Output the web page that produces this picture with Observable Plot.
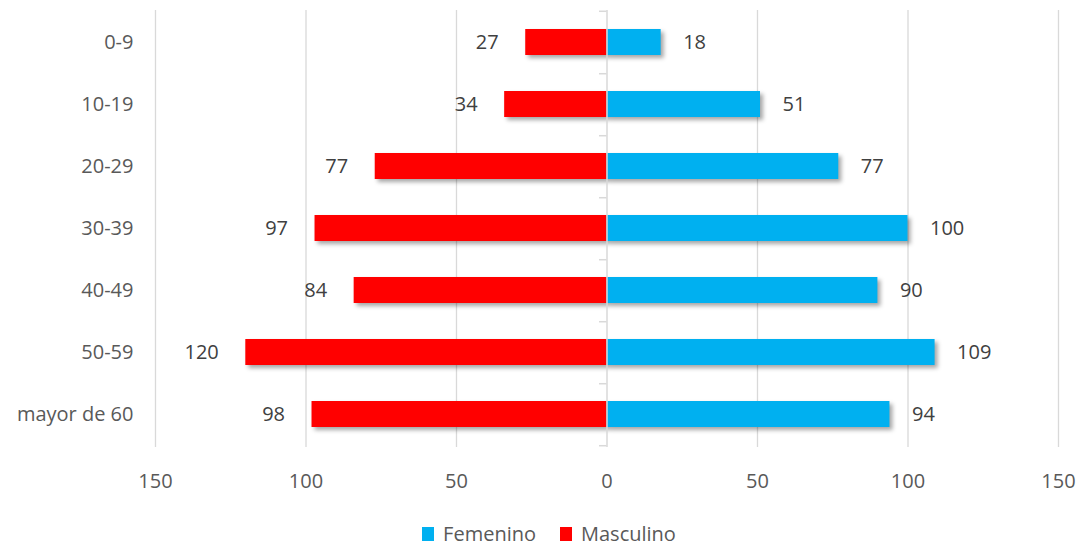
<!DOCTYPE html>
<html>
<head>
<meta charset="utf-8">
<script src="https://cdn.jsdelivr.net/npm/d3@7"></script>
<script src="https://cdn.jsdelivr.net/npm/@observablehq/plot@0.6"></script>
<style>
  html, body { margin: 0; padding: 0; background: #fff; }
  #chart svg { display: block; }
  .legend { display: flex; justify-content: center; align-items: center; gap: 24px;
    font: 20px "Open Sans", "Noto Sans", sans-serif; color: #595959; height: 41px;
    padding-left: 14px; padding-top: 16px; box-sizing: border-box; }
  .legend span.item { display: flex; align-items: center; }
  .legend span.sw { display: inline-block; width: 12px; height: 14px; margin-right: 9px; }
</style>
</head>
<body>
<div id="chart"></div>
<div class="legend" id="legend"></div>
<script>
// Age groups and counts by sex
const grupos = ["0-9", "10-19", "20-29", "30-39", "40-49", "50-59", "mayor de 60"];
const femenino = [18, 51, 77, 100, 90, 109, 94];
const masculino = [27, 34, 77, 97, 84, 120, 98];
const xTicks = [-150, -100, -50, 0, 50, 100, 150];
const series = ["Femenino", "Masculino"];
const colores = ["#00B0F0", "#FF0000"];

const rows = grupos.flatMap((g, i) => [
  {grupo: g, sexo: "Femenino", valor: femenino[i], x: femenino[i]},
  {grupo: g, sexo: "Masculino", valor: masculino[i], x: -masculino[i]}
]);

const W = 1084, H = 505;
const mTop = 10, mBottom = H - 447;
const step = (H - mTop - mBottom) / grupos.length;
const font = `"Open Sans", "Noto Sans", sans-serif`;
const fs = 20;

const chart = Plot.plot({
  width: W,
  height: H,
  marginLeft: 155,
  marginRight: 26,
  marginTop: mTop,
  marginBottom: mBottom,
  style: {fontFamily: font, fontSize: `${fs}px`, color: "#595959", background: "#fff"},
  x: {domain: [-150, 150], ticks: xTicks, label: null},
  y: {domain: grupos, paddingInner: 0.58, paddingOuter: 0.29, label: null},
  color: {domain: series, range: colores},
  marks: [
    Plot.ruleX(xTicks.filter(d => d !== 0), {stroke: "#d9d9d9", strokeWidth: 1.3}),
    Plot.barX(rows, {x: "x", y: "grupo", fill: "sexo"}),
    Plot.ruleX([0], {stroke: "#d9d9d9", strokeWidth: 1.5}),
    // small category separators on the central axis
    Plot.ruleY(grupos, {y: d => d, dy: step / 2, x1: -2.5, x2: 0, stroke: "#d9d9d9", strokeWidth: 1.5}),
    Plot.ruleY([grupos[0]], {y: d => d, dy: -step / 2, x1: -2.5, x2: 0, stroke: "#d9d9d9", strokeWidth: 1.5}),
    Plot.text(rows.filter(d => d.sexo === "Femenino"), {
      x: "x", y: "grupo", text: d => String(d.valor), textAnchor: "start", dx: 22,
      fill: "#404040", fontSize: fs
    }),
    Plot.text(rows.filter(d => d.sexo === "Masculino"), {
      x: "x", y: "grupo", text: d => String(d.valor), textAnchor: "end", dx: -27,
      fill: "#404040", fontSize: fs
    }),
    Plot.axisX({ticks: xTicks, tickFormat: d => String(Math.abs(d)), tickSize: 0, tickPadding: 26,
      fill: "#595959", fontSize: fs, label: null}),
    Plot.axisY({tickSize: 0, tickPadding: 22, fill: "#595959", fontSize: fs, label: null})
  ]
});

// soft drop shadow under the bars
d3.select(chart).selectAll("g[aria-label='bar']")
  .style("filter", "drop-shadow(3px 3px 2px rgba(0,0,0,0.35))");

document.getElementById("chart").appendChild(chart);

const legend = document.getElementById("legend");
series.forEach((s, i) => {
  const item = document.createElement("span");
  item.className = "item";
  item.innerHTML = `<span class="sw" style="background:${colores[i]}"></span>${s}`;
  legend.appendChild(item);
});
</script>
</body>
</html>
